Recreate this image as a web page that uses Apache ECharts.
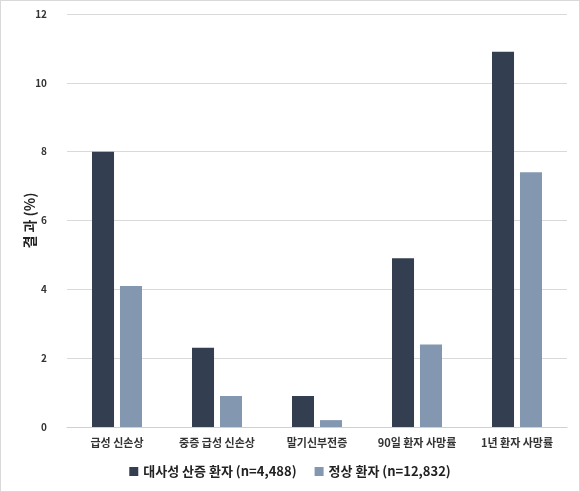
<!DOCTYPE html>
<html>
<head>
<meta charset="utf-8" />
<title>결과</title>
<script src="https://cdn.jsdelivr.net/npm/echarts@6/dist/echarts.min.js"></script>
<style>
html, body { margin: 0; padding: 0; background: #fff; }
#chart { width: 578px; height: 490px; border: 1px solid #d9d9d9; }
</style>
</head>
<body>
<div id="chart"></div>
<script>
var categories = ['급성 신손상', '중증 급성 신손상', '말기신부전증', '90일 환자 사망률', '1년 환자 사망률'];
var acidosis = [8.0, 2.3, 0.9, 4.9, 10.9];
var normal = [4.1, 0.9, 0.2, 2.4, 7.4];
var seriesNames = ['대사성 산증 환자 (n=4,488)', '정상 환자 (n=12,832)'];

var font = "'Noto Sans CJK KR', sans-serif";
var myChart = echarts.init(document.getElementById('chart'));
myChart.setOption({
	animation: false,
	textStyle: { fontFamily: font },
	grid: { left: 66, right: 12, top: 13, bottom: 64 },
	legend: {
		bottom: 8,
		itemWidth: 9,
		itemHeight: 9,
		itemGap: 18,
		icon: 'rect',
		textStyle: { fontFamily: font, fontSize: 13, fontWeight: 'bold', color: '#222' },
		data: seriesNames
	},
	xAxis: {
		type: 'category',
		data: categories,
		axisTick: { show: false },
		axisLine: { lineStyle: { color: '#d0d0d0' } },
		axisLabel: { interval: 0, fontFamily: font, fontSize: 11, fontWeight: 'bold', color: '#333', margin: 10 }
	},
	yAxis: {
		type: 'value',
		min: 0,
		max: 12,
		interval: 2,
		name: '결 과 (%)',
		nameLocation: 'middle',
		nameGap: 30,
		nameTextStyle: { fontFamily: font, fontSize: 14, fontWeight: 'bold', color: '#222' },
		nameMoveOverlap: false,
		axisLabel: { fontFamily: font, fontSize: 10, fontWeight: 'bold', color: '#333', margin: 20 },
		splitLine: { lineStyle: { color: '#d9d9d9' } }
	},
	series: [{
		name: seriesNames[0],
		type: 'bar',
		data: acidosis,
		barGap: '27%',
		barCategoryGap: '50%',
		itemStyle: { color: '#333f50' }
	}, {
		name: seriesNames[1],
		type: 'bar',
		data: normal,
		itemStyle: { color: '#8497b0' }
	}]
});
</script>
</body>
</html>
